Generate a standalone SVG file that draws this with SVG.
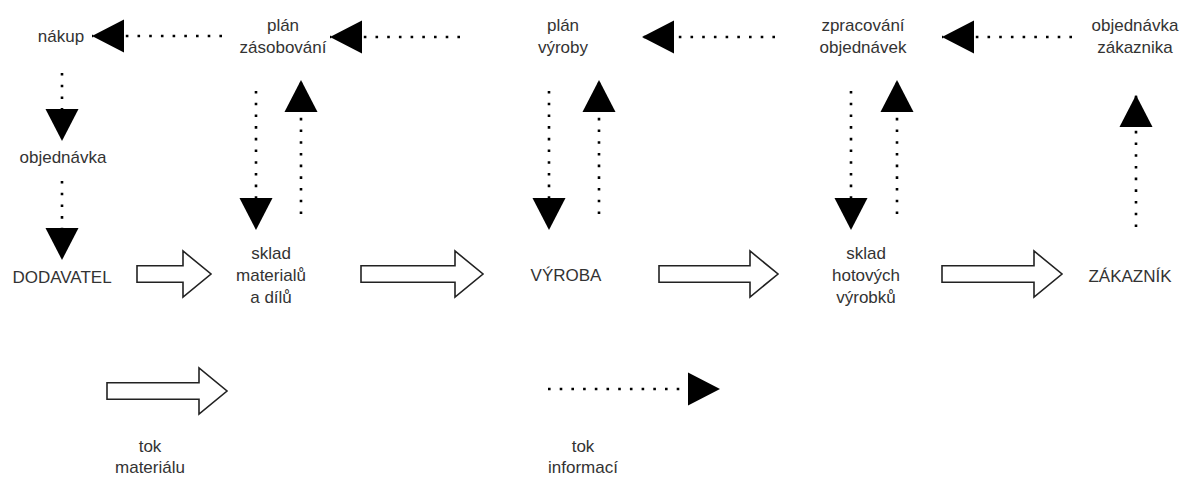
<svg xmlns="http://www.w3.org/2000/svg" width="1182" height="486" viewBox="0 0 1182 486">
  <style>
    .lbl { font-family: "Liberation Sans", Arial, sans-serif; font-size: 17px; fill: #333333; text-anchor: middle; }
    .info { fill: none; stroke: #000000; stroke-width: 2.6; stroke-dasharray: 2.6 9.1; marker-end: url(#head); }
    .flow { fill: #ffffff; stroke: #222222; stroke-width: 1.6; stroke-linejoin: miter; }
  </style>
  <defs>
    <marker id="head" markerUnits="userSpaceOnUse" markerWidth="32" markerHeight="34" viewBox="0 0 31 32" refX="31" refY="16" orient="auto">
      <path d="M0,0 L31,16 L0,32 Z" fill="#000000"/>
    </marker>
  </defs>

  <rect width="1182" height="486" fill="#ffffff"/>

  <!-- information flows (dotted) and material flows (block arrows) -->
  <g id="connectors">
    <line class="info" x1="222" y1="36" x2="92" y2="36"/>
    <line class="info" x1="460" y1="37" x2="330" y2="37"/>
    <line class="info" x1="775" y1="37" x2="642" y2="37"/>
    <line class="info" x1="1072" y1="37" x2="942" y2="37"/>

    <line class="info" x1="62" y1="73" x2="62" y2="141"/>
    <line class="info" x1="62" y1="181" x2="62" y2="260"/>
    <line class="info" x1="256" y1="91" x2="256" y2="230"/>
    <line class="info" x1="301" y1="214" x2="301" y2="80"/>
    <line class="info" x1="549" y1="91" x2="549" y2="230"/>
    <line class="info" x1="599" y1="214" x2="599" y2="80"/>
    <line class="info" x1="851" y1="91" x2="851" y2="230"/>
    <line class="info" x1="897" y1="214" x2="897" y2="80"/>
    <line class="info" x1="1136" y1="227" x2="1136" y2="95"/>

    <polygon class="flow" points="137,265.7 183,265.7 183,251 211,274 183,297 183,282.3 137,282.3"/>
    <polygon class="flow" points="361,265.7 455,265.7 455,251 483,274 455,297 455,282.3 361,282.3"/>
    <polygon class="flow" points="659,265.7 750,265.7 750,251 778,274 750,297 750,282.3 659,282.3"/>
    <polygon class="flow" points="942,265.7 1034,265.7 1034,251 1062,274 1034,297 1034,282.3 942,282.3"/>
  </g>

  <!-- process nodes -->
  <g id="nakup"><text class="lbl" x="61" y="42">nákup</text></g>
  <g id="plan-zasobovani"><text class="lbl" x="283" y="31">plán</text><text class="lbl" x="283" y="53">zásobování</text></g>
  <g id="plan-vyroby"><text class="lbl" x="563" y="31">plán</text><text class="lbl" x="563" y="53">výroby</text></g>
  <g id="zpracovani-objednavek"><text class="lbl" x="863" y="31">zpracování</text><text class="lbl" x="863" y="53">objednávek</text></g>
  <g id="objednavka-zakaznika"><text class="lbl" x="1135" y="31">objednávka</text><text class="lbl" x="1135" y="53">zákaznika</text></g>
  <g id="objednavka"><text class="lbl" x="63" y="163">objednávka</text></g>
  <g id="dodavatel"><text class="lbl" x="62" y="283">DODAVATEL</text></g>
  <g id="sklad-materialu"><text class="lbl" x="271" y="259">sklad</text><text class="lbl" x="271" y="281">materialů</text><text class="lbl" x="271" y="303">a dílů</text></g>
  <g id="vyroba"><text class="lbl" x="566" y="281">VÝROBA</text></g>
  <g id="sklad-hotovych"><text class="lbl" x="866" y="259">sklad</text><text class="lbl" x="866" y="281">hotových</text><text class="lbl" x="866" y="303">výrobků</text></g>
  <g id="zakaznik"><text class="lbl" x="1130" y="282">ZÁKAZNÍK</text></g>

  <!-- legend -->
  <g id="legend-material">
    <polygon class="flow" points="107,382.7 199,382.7 199,368 227,391 199,414 199,399.3 107,399.3"/>
    <text class="lbl" x="150" y="452">tok</text><text class="lbl" x="150" y="473">materiálu</text>
  </g>
  <g id="legend-info">
    <line class="info" x1="548" y1="389" x2="720" y2="389"/>
    <text class="lbl" x="583" y="452">tok</text><text class="lbl" x="583" y="473">informací</text>
  </g>
</svg>
